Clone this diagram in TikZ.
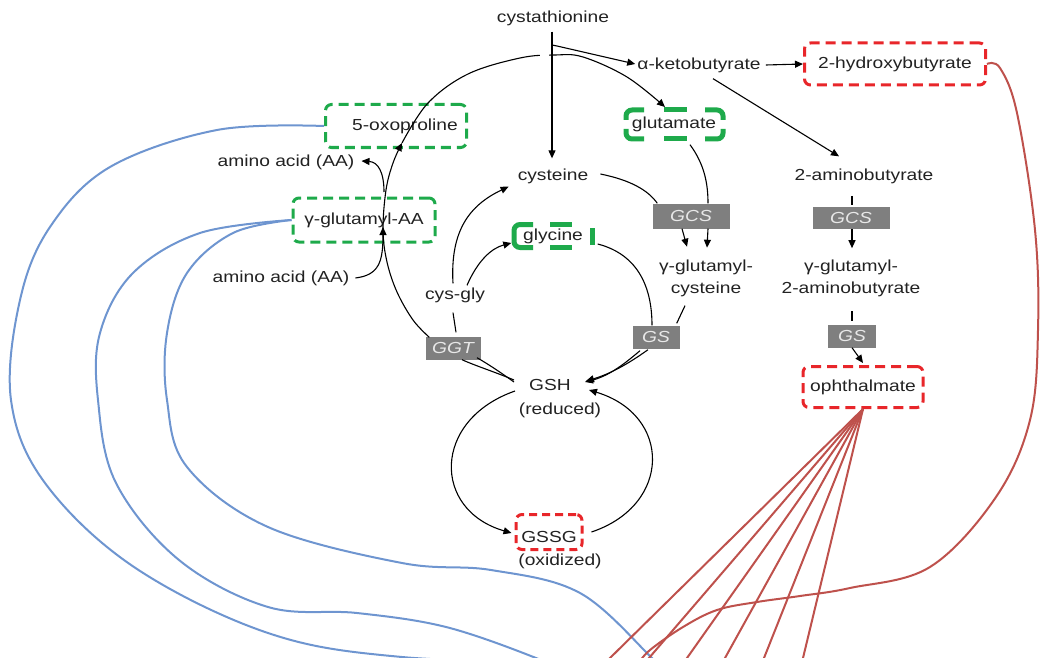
\documentclass[tikz,border=0pt]{standalone}
\usepackage{fontspec}
\setmainfont[FakeStretch=1.2]{Liberation Sans}
\usetikzlibrary{arrows.meta,calc}
\definecolor{txt}{HTML}{222222}
\definecolor{grn}{HTML}{1EAA4B}
\definecolor{rdb}{HTML}{E8262A}
\definecolor{gbox}{HTML}{7F7F7F}
\definecolor{gtxt}{HTML}{E8E8E8}
\definecolor{blu}{HTML}{6E95D0}
\definecolor{brn}{HTML}{BE514C}
\begin{document}
\begin{tikzpicture}[x=1pt,y=-1pt,
  every node/.style={font=\fontsize{16}{22}\selectfont, text=txt, inner sep=0pt},
  grnbox/.style={draw=grn, line width=3pt, dash pattern=on 10pt off 6pt, rounded corners=6pt},
  grnpiece/.style={draw=grn, line width=5pt, rounded corners=6pt},
  redbox/.style={draw=rdb, line width=3pt, dash pattern=on 10pt off 6pt, rounded corners=6pt},
  enz/.style={fill=gbox, text=gtxt, font=\fontsize{16}{19}\selectfont\itshape},
  arr/.style={draw=black, line width=1.1pt, -{Triangle[length=8pt,width=7pt]}},
  ln/.style={draw=black, line width=1.1pt},
  bl/.style={draw=blu, line width=2pt},
  rd/.style={draw=brn, line width=2pt},
]
\path[use as bounding box] (0,0) rectangle (1041,658);
\clip (0,0) rectangle (1041,658);

% boxes that the coloured connectors leave from
\node[grnbox, minimum width=141pt, minimum height=43pt] (oxo) at (396,126) {\hspace*{18pt}5-oxoproline};
\node[grnbox, minimum width=142pt, minimum height=44pt] (gaa) at (364,220) {γ-glutamyl-AA};
\node[redbox, minimum width=181pt, minimum height=42pt] (hb) at (895,64) {2-hydroxybutyrate};
\node[redbox, minimum width=120pt, minimum height=41pt] (oph) at (863,387) {ophthalmate};

% blue and red connectors
\draw[bl] plot[smooth, tension=0.6] coordinates {(oxo.west) (217,130) (110,167) (50,227) (20,300) (11,400) (45,483) (134,567) (268,633) (402,657) (600,664)};
\draw[bl] plot[smooth, tension=0.6] coordinates {(gaa.west) (200,233) (133,273) (100,333) (98,400) (116,483) (179,560) (268,607) (357,613) (446,627) (536,658) (560,672)};
\draw[bl] plot[smooth, tension=0.6] coordinates {(gaa.west) (233,233) (187,273) (167,333) (167,400) (187,467) (268,527) (402,563) (491,570) (580,593) (652,658) (665,672)};

\draw[rd] plot[smooth, tension=0.6] coordinates {(hb.east) (1000,68) (1017,113) (1035,230) (1038,330) (1030,420) (996,497) (930,567) (850,588) (800,596) (757,602) (717,610) (683,627) (650,650) (638,664)};
\foreach \bx in {610,649,687,725,764,803}{
  \draw[rd] (oph.south) -- ($(oph.south)!1.05!(\bx,658)$);
}

% labels
\node (cys0) at (553,18) {cystathionine};
\node (akb) at (699,65) {α-ketobutyrate};
\node (ab) at (864,176) {2-aminobutyrate};
\node[enz, minimum width=77pt, minimum height=22pt] (gcs2) at (851,218) {GCS};
\node[align=center] (gab) at (851,278) {γ-glutamyl-\\2-aminobutyrate};
\node[enz, minimum width=48pt, minimum height=23pt] (gs2) at (852,336) {GS};

\node[minimum width=103pt, minimum height=35pt] (glu) at (674,124) {glutamate};
\draw[grnpiece] (644,110) -| (626,120);
\draw[grnpiece] (705,110) -| (723,120);
\draw[grnpiece] (644,139) -| (626,129);
\draw[grnpiece] (705,139) -| (723,129);
\draw[grnpiece] (664,110) -- (687,110);
\draw[grnpiece] (664,139) -- (687,139);

\node (cys) at (553,176) {cysteine};
\node[minimum width=83pt, minimum height=28pt] (gly) at (553,236) {glycine};
\draw[grnpiece] (533,224.5) -| (514,247.5) -- (533,247.5);
\draw[grnpiece] (550,224.5) -- (572,224.5);
\draw[grnpiece] (550,247.5) -- (572,247.5);
\draw[grnpiece] (592,228) -- (592,245);

\node[enz, minimum width=77pt, minimum height=25pt] (gcs) at (691,216) {GCS};
\node[align=center] (gc) at (706,278) {γ-glutamyl-\\cysteine};
\node[enz, minimum width=47pt, minimum height=23pt] (gs) at (656,337) {GS};
\node (cg) at (455,295) {cys-gly};
\node[enz, minimum width=55pt, minimum height=23pt] (ggt) at (453,348) {GGT};
\node (gsh) at (550,385) {GSH};
\node (red) at (560,410) {(reduced)};
\node[redbox, minimum width=66pt, minimum height=35pt, dash pattern=on 8pt off 5pt] (gssg) at (549,532) {};
\node (gssgt) at (549,537) {GSSG};
\node (oxi) at (560,561) {(oxidized)};
\node (aa1) at (286,162) {amino acid (AA)};
\node (aa2) at (281,278) {amino acid (AA)};

% big arc (GGT -> 5-oxoproline -> glutamate)
\draw[arr] plot[smooth, tension=0.6] coordinates {($(ggt.north west)+(4,1)$) (413,320) (397,292) (387,262) (383,230) (386,190) (393,163) (402,143)};
\draw[arr] plot[smooth, tension=0.6] coordinates {(402,143) (428,103) (468,74) (520,58) (555,55) (583,57) (627,77) (665,107)};
\draw[white, line width=3pt] (540,55.5) -- (549,55.5);

% cystathionine branch
\coordinate (br) at (552,45);
\draw[arr] ($(cys0.south)+(-1,6)$) -- ($(cys.north)+(-1,-10)$);
\draw[arr] (br) -- (557,46) -- ($(akb.west)+(-2,-1)$);
\draw[arr] ($(akb.east)+(5,0)$) -- (hb.west);
\draw[arr] ($(akb.south)+(14,6)$) -- ($(ab.north)+(-25,-12)$);
\draw[ln] ($(gcs2.north)+(1,-11)$) -- ($(gcs2.north)+(1,-2)$);
\draw[arr] ($(gcs2.south)+(1,0)$) -- ($(gcs2.south)+(1,19)$);
\draw[ln] ($(gs2.north)+(0,-13)$) -- ($(gs2.north)+(0,-3)$);
\draw[arr] (gs2.south) -- ($(oph.north)+(0,-2)$);

% amino acid cycle
\draw[arr] ($(aa2.east)+(6,0)$) .. controls (379,275) and (383,262) .. (383,227);
\draw[arr] (384,192) .. controls (384,172) and (378,162) .. ($(aa1.east)+(7,-1)$);

% centre cycle
\draw[arr] ($(cg.north)+(-2,-4)$) .. controls (450,230) and (470,205) .. ($(cys.south west)+(-9,3)$);
\draw[arr] ($(cg.north)+(12,-2)$) .. controls (478,260) and (492,248) .. ($(gly.west)+(0,7)$);
\draw[ln] ($(cg.south)+(-2,10)$) -- ($(ggt.north)+(3,-4)$);
\draw[ln] ($(gsh.west)+(-15,-5)$) .. controls (495,372) and (476,366) .. ($(ggt.south)+(9,0)$);
\draw[ln] ($(gsh.west)+(-15,-3)$) .. controls (500,372) and (488,364) .. ($(ggt.south)+(24,-2)$);
\draw[ln] ($(cys.east)+(12,-2)$) .. controls (630,180) and (648,190) .. ($(gcs.north west)+(5,0)$);
\draw[ln] ($(glu.south)+(16,3)$) .. controls (705,165) and (708,185) .. ($(gcs.north)+(17,0)$);
\draw[arr] ($(gcs.south)+(-9,0)$) -- ($(gcs.south)+(-4,18)$);
\draw[arr] ($(gcs.south)+(17,0)$) -- ($(gcs.south)+(16,19)$);
\draw[ln] ($(gc.south)+(-21,9)$) -- ($(gs.north east)+(-3,-2)$);
\draw[ln] ($(gly.east)+(3,8)$) .. controls (640,255) and (652,290) .. ($(gs.north)+(-4,0)$);
\draw[arr] ($(gs.south)+(-8,1)$) .. controls (628,364) and (610,374) .. ($(gsh.east)+(15,-4)$);
\draw[arr] ($(gs.south)+(-16,2)$) .. controls (622,366) and (608,376) .. ($(gsh.east)+(14,-3)$);
\draw[arr] ($(gsh.west)+(-14,6)$) .. controls (432,420) and (432,510) .. ($(gssg.west)+(-3,1)$);
\draw[arr] ($(gssg.east)+(8,0)$) .. controls (672,505) and (672,415) .. ($(gsh.east)+(18,5)$);
\end{tikzpicture}
\end{document}
